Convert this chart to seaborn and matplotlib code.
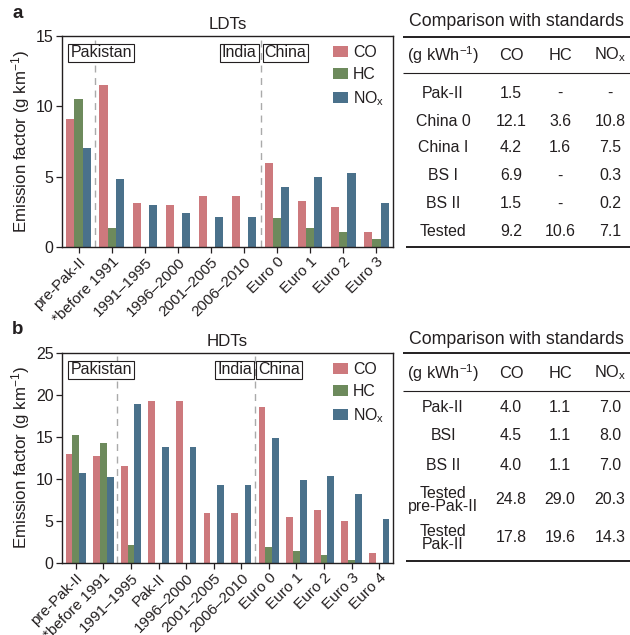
import numpy as np
import pandas as pd
import matplotlib.pyplot as plt
import seaborn as sns

sns.set_style("ticks")
plt.rcParams['font.family'] = ['Liberation Sans', 'DejaVu Sans']
plt.rcParams['mathtext.fontset'] = 'custom'
plt.rcParams['mathtext.rm'] = 'Liberation Sans'
plt.rcParams['mathtext.it'] = 'Liberation Sans:italic'

ink = '#231f20'
plt.rcParams['text.color'] = ink
plt.rcParams['axes.labelcolor'] = ink
plt.rcParams['xtick.color'] = ink
plt.rcParams['ytick.color'] = ink
plt.rcParams['axes.edgecolor'] = ink

# ---- data ----
pollutants = ['CO', 'HC', r'NO$_\mathrm{x}$']
colors = ['#cd797d', '#6d8a5c', '#4a718b']

ldt_cats = ['pre-Pak-II', '*before 1991', '1991–1995', '1996–2000', '2001–2005',
            '2006–2010', 'Euro 0', 'Euro 1', 'Euro 2', 'Euro 3']
ldt_co = [9.1, 11.5, 3.1, 3.0, 3.65, 3.65, 6.0, 3.3, 2.85, 1.07]
ldt_hc = [10.55, 1.35, 0, 0, 0, 0, 2.05, 1.35, 1.1, 0.57]
ldt_nox = [7.05, 4.8, 3.0, 2.4, 2.1, 2.1, 4.3, 5.0, 5.28, 3.15]

hdt_cats = ['pre-Pak-II', '*before 1991', '1991–1995', 'Pak-II', '1996–2000', '2001–2005',
            '2006–2010', 'Euro 0', 'Euro 1', 'Euro 2', 'Euro 3', 'Euro 4']
hdt_co = [13.0, 12.78, 11.5, 19.33, 19.33, 6.0, 6.0, 18.6, 5.5, 6.35, 5.0, 1.23]
hdt_hc = [15.28, 14.33, 2.18, 0, 0, 0, 0, 1.94, 1.47, 1.0, 0.32, 0]
hdt_nox = [10.75, 10.28, 18.97, 13.77, 13.77, 9.29, 9.29, 14.84, 9.92, 10.32, 8.17, 5.28]

# comparison tables
tab_header = ['(g kWh$^{-1}$)', 'CO', 'HC', r'NO$_\mathrm{x}$']
ldt_std = ['Pak-II', 'China 0', 'China I', 'BS I', 'BS II', 'Tested']
ldt_std_co = ['1.5', '12.1', '4.2', '6.9', '1.5', '9.2']
ldt_std_hc = ['-', '3.6', '1.6', '-', '-', '10.6']
ldt_std_nox = ['-', '10.8', '7.5', '0.3', '0.2', '7.1']

hdt_std = ['Pak-II', 'BSI', 'BS II', 'Tested\npre-Pak-II', 'Tested\nPak-II']
hdt_std_co = ['4.0', '4.5', '4.0', '24.8', '17.8']
hdt_std_hc = ['1.1', '1.1', '1.1', '29.0', '19.6']
hdt_std_nox = ['7.0', '8.0', '7.0', '20.3', '14.3']


def long_df(cats, co, hc, nox):
    parts = []
    for name, vals in zip(pollutants, [co, hc, nox]):
        parts.append(pd.DataFrame({'cat': cats, 'pollutant': name, 'value': vals}))
    return pd.concat(parts, ignore_index=True)


W, H = 630, 635
fig = plt.figure(figsize=(6.3, 6.35), dpi=100)


def px_axes(x0, y0, x1, y1):
    return fig.add_axes([x0 / W, 1 - y1 / H, (x1 - x0) / W, (y1 - y0) / H])


def bar_panel(ax, cats, co, hc, nox, ymax, title, pak_x, ind_x):
    df = long_df(cats, co, hc, nox)
    sns.barplot(data=df, x='cat', y='value', hue='pollutant', order=cats,
                hue_order=pollutants, palette=colors, width=0.74, linewidth=0,
                saturation=1, ax=ax)
    ax.set_ylim(0, ymax)
    ax.set_yticks(np.arange(0, ymax + 1, 5))
    ax.set_xlabel('')
    ax.set_ylabel('Emission factor (g km$^{-1}$)', fontsize=12.2, labelpad=3)
    ax.set_title(title, fontsize=12.2, pad=5)
    ax.tick_params(axis='y', labelsize=11.5, length=4, width=0.9, direction='out', pad=2)
    ax.tick_params(axis='x', labelsize=11.0, length=4, width=0.9, direction='out', pad=1.5)
    ax.set_xticks(range(len(cats)))
    ax.set_xticklabels(cats, rotation=45, ha='right', rotation_mode='anchor')
    for s in ax.spines.values():
        s.set_linewidth(1.0)
    for xv in [pak_x, ind_x]:
        ax.axvline(xv, color='#aaaaaa', ls=(0, (5, 4)), lw=1.0, zorder=0)
    box = dict(boxstyle='square,pad=0.12', fc='white', ec=ink, lw=0.8)
    tr = ax.get_xaxis_transform()
    ax.text(0.025, 0.955, 'Pakistan', transform=ax.transAxes, ha='left', va='top',
            fontsize=11.5, bbox=box, zorder=5)
    ax.text(ind_x - 0.12, 0.955, 'India', transform=tr, ha='right', va='top',
            fontsize=11.5, bbox=box, zorder=5)
    ax.text(ind_x + 0.12, 0.955, 'China', transform=tr, ha='left', va='top',
            fontsize=11.5, bbox=box, zorder=5)
    handles, labels = ax.get_legend_handles_labels()
    ax.legend(handles, labels, loc='upper right', frameon=False, fontsize=11.4,
              handlelength=0.9, handleheight=0.7, handletextpad=0.33,
              labelspacing=0.45, borderpad=0.2, borderaxespad=0.35)


ax1 = px_axes(62, 36, 393, 247)
bar_panel(ax1, ldt_cats, ldt_co, ldt_hc, ldt_nox, 15, 'LDTs', 0.5, 5.5)
ax2 = px_axes(62, 353, 393, 563)
bar_panel(ax2, hdt_cats, hdt_co, hdt_hc, hdt_nox, 25, 'HDTs', 1.5, 6.5)

fig.text(12 / W, 1 - 14 / H, 'a', fontsize=13.5, fontweight='bold', va='center')
fig.text(12 / W, 1 - 330 / H, 'b', fontsize=13.5, fontweight='bold', va='center')

# ---- tables ----
tax = px_axes(395, 0, 630, 635)
tax.set_xlim(395, 630)
tax.set_ylim(635, 0)
tax.axis('off')
col_x = [443, 511, 560, 610]


def draw_table(y_title, y_top, y_head, y_rule, y_rows, y_bot, rows, co, hc, nox):
    tax.text(516, y_title, 'Comparison with standards', ha='center', va='center', fontsize=12.8)
    tax.plot([403, 630], [y_top, y_top], color=ink, lw=1.4, solid_capstyle='butt')
    tax.plot([403, 630], [y_rule, y_rule], color=ink, lw=0.8, solid_capstyle='butt')
    tax.plot([406, 630], [y_bot, y_bot], color=ink, lw=1.4, solid_capstyle='butt')
    for x, h in zip(col_x, tab_header):
        tax.text(x, y_head, h, ha='center', va='center', fontsize=11.8)
    for i, y in enumerate(y_rows):
        tax.text(col_x[0], y, rows[i], ha='center', va='center', fontsize=11.4, linespacing=0.85)
        for x, vals in zip(col_x[1:], [co, hc, nox]):
            tax.text(x, y, vals[i], ha='center', va='center', fontsize=11.4)


draw_table(21, 37, 55, 73, [93, 121, 148, 176, 204, 232], 247,
           ldt_std, ldt_std_co, ldt_std_hc, ldt_std_nox)
draw_table(339, 353, 373, 391, [408, 435, 465, 500, 538], 561,
           hdt_std, hdt_std_co, hdt_std_hc, hdt_std_nox)

fig.savefig('out.png', dpi=100)
